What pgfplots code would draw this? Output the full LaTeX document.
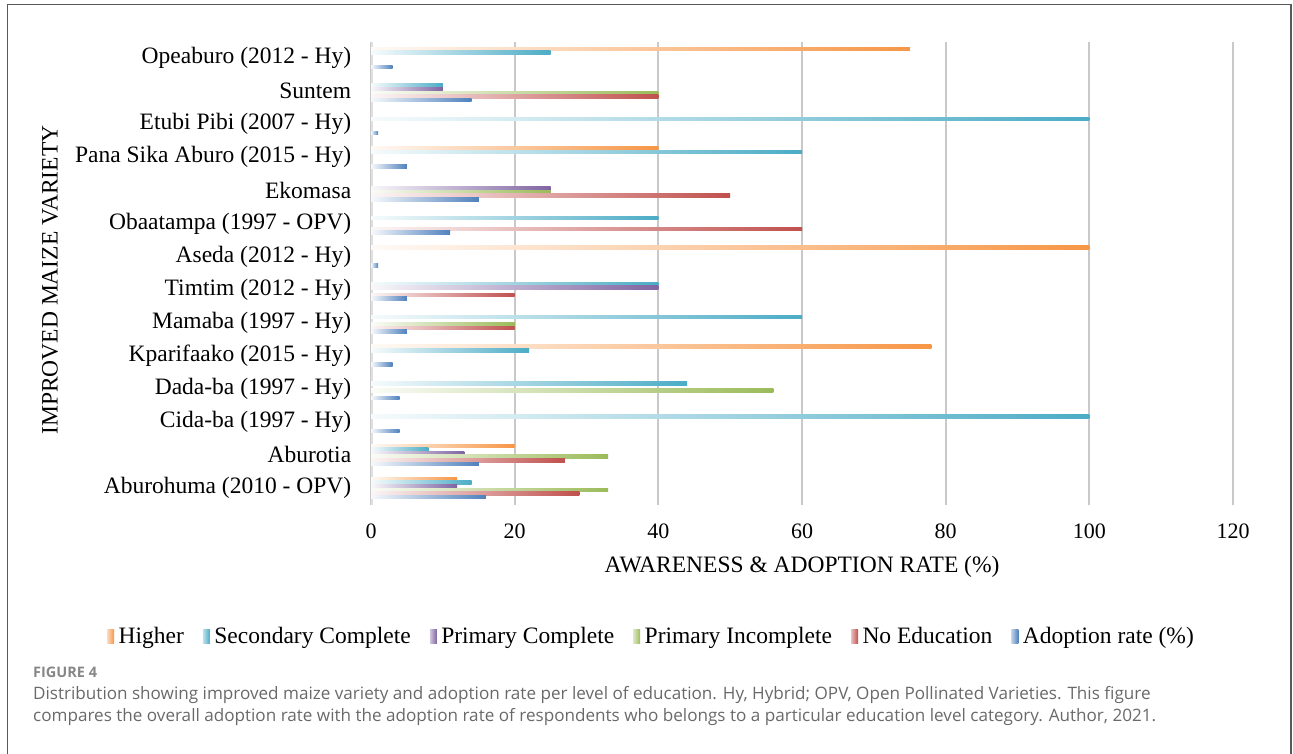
\documentclass[border=0pt]{standalone}
\usepackage{fontspec}
\setmainfont{Liberation Serif}
\newfontfamily\capfont{Open Sans}
\usepackage{pgfplots}
\pgfplotsset{compat=1.18}
\definecolor{cHigh}{RGB}{247,150,70}
\definecolor{cSec}{RGB}{75,172,198}
\definecolor{cPC}{RGB}{128,100,162}
\definecolor{cPI}{RGB}{155,187,89}
\definecolor{cNo}{RGB}{192,80,77}
\definecolor{cAd}{RGB}{79,129,189}
\definecolor{capgray}{RGB}{105,105,105}
\definecolor{figgray}{RGB}{135,135,135}
% one bar: colour, shift, value, category index
\newcommand{\bb}[4]{\addplot[forget plot, draw=none, left color=#1!5, middle color=#1!72, right color=#1, bar shift=#2] coordinates {(#3,#4)};}
\begin{document}
\begin{tikzpicture}[font=\fontsize{23.5}{28}\selectfont]
\path[use as bounding box] (0pt,0pt) rectangle (1293pt,-753pt);
\draw[black!65, line width=1.5pt] (7.5pt,-760pt) -- (7.5pt,-4.5pt) -- (1291pt,-4.5pt) -- (1291pt,-760pt);
\begin{axis}[
  at={(371pt,-504.5pt)}, anchor=south west,
  width=862pt, height=463pt, scale only axis,
  xmin=0, xmax=120, ymin=-0.5, ymax=13.5,
  xtick={0,20,...,120},
  ytick={0,...,13},
  yticklabels={Aburohuma (2010 - OPV), Aburotia, Cida-ba (1997 - Hy), Dada-ba (1997 - Hy), Kparifaako (2015 - Hy), Mamaba (1997 - Hy), Timtim (2012 - Hy), Aseda (2012 - Hy), Obaatampa (1997 - OPV), Ekomasa, Pana Sika Aburo (2015 - Hy), Etubi Pibi (2007 - Hy), Suntem, Opeaburo (2012 - Hy)},
  /pgf/number format/assume math mode=true,
  axis line style={draw=none},
  tick style={draw=none},
  xmajorgrids,
  grid style={draw=black!21, line width=1.8pt},
  xticklabel style={yshift=-16pt, font=\fontsize{22}{26}\selectfont},
  yticklabel style={xshift=-12pt},
  xbar, bar width=0.106,
  legend columns=6,
  legend style={at={(0.3248,-0.284)}, anchor=center, draw=none, fill=none,
    font=\fontsize{23.5}{28}\selectfont,
    nodes={inner xsep=1pt},
    /tikz/every odd column/.append style={column sep=3.5pt},
    /tikz/every even column/.append style={column sep=18pt}},
  legend image code/.code={\path[#1,draw=none] (0pt,-7pt) rectangle (7pt,7pt);},
]
\draw[black!12, line width=4pt] (axis cs:0,-0.5) -- (axis cs:0,13.5);
\addlegendimage{left color=cHigh!35, right color=cHigh}
\addlegendentry{Higher}
\addlegendimage{left color=cSec!35, right color=cSec}
\addlegendentry{Secondary Complete}
\addlegendimage{left color=cPC!35, right color=cPC}
\addlegendentry{Primary Complete}
\addlegendimage{left color=cPI!35, right color=cPI}
\addlegendentry{Primary Incomplete}
\addlegendimage{left color=cNo!35, right color=cNo}
\addlegendentry{No Education}
\addlegendimage{left color=cAd!35, right color=cAd}
\addlegendentry{Adoption rate (\%)}
% Higher
\bb{cHigh}{0.2725}{75}{13} \bb{cHigh}{0.2725}{40}{10} \bb{cHigh}{0.2725}{100}{7}
\bb{cHigh}{0.2725}{78}{4} \bb{cHigh}{0.2725}{20}{1} \bb{cHigh}{0.2725}{12}{0}
% Secondary Complete
\bb{cSec}{0.1635}{25}{13} \bb{cSec}{0.1635}{10}{12} \bb{cSec}{0.1635}{100}{11}
\bb{cSec}{0.1635}{60}{10} \bb{cSec}{0.1635}{40}{8} \bb{cSec}{0.1635}{40}{6}
\bb{cSec}{0.1635}{60}{5} \bb{cSec}{0.1635}{22}{4} \bb{cSec}{0.1635}{44}{3}
\bb{cSec}{0.1635}{100}{2} \bb{cSec}{0.1635}{8}{1} \bb{cSec}{0.1635}{14}{0}
% Primary Complete
\bb{cPC}{0.0545}{10}{12} \bb{cPC}{0.0545}{25}{9} \bb{cPC}{0.0545}{40}{6}
\bb{cPC}{0.0545}{13}{1} \bb{cPC}{0.0545}{12}{0}
% Primary Incomplete
\bb{cPI}{-0.0545}{40}{12} \bb{cPI}{-0.0545}{25}{9} \bb{cPI}{-0.0545}{20}{5}
\bb{cPI}{-0.0545}{56}{3} \bb{cPI}{-0.0545}{33}{1} \bb{cPI}{-0.0545}{33}{0}
% No Education
\bb{cNo}{-0.1635}{40}{12} \bb{cNo}{-0.1635}{50}{9} \bb{cNo}{-0.1635}{60}{8}
\bb{cNo}{-0.1635}{20}{6} \bb{cNo}{-0.1635}{20}{5} \bb{cNo}{-0.1635}{27}{1}
\bb{cNo}{-0.1635}{29}{0}
% Adoption rate
\bb{cAd}{-0.2725}{3}{13} \bb{cAd}{-0.2725}{14}{12} \bb{cAd}{-0.2725}{1}{11}
\bb{cAd}{-0.2725}{5}{10} \bb{cAd}{-0.2725}{15}{9} \bb{cAd}{-0.2725}{11}{8}
\bb{cAd}{-0.2725}{1}{7} \bb{cAd}{-0.2725}{5}{6} \bb{cAd}{-0.2725}{5}{5}
\bb{cAd}{-0.2725}{3}{4} \bb{cAd}{-0.2725}{4}{3} \bb{cAd}{-0.2725}{4}{2}
\bb{cAd}{-0.2725}{15}{1} \bb{cAd}{-0.2725}{16}{0}
\end{axis}
\node[rotate=90] at (50pt,-280pt) {IMPROVED MAIZE VARIETY};
\node at (802pt,-567pt) {AWARENESS \& ADOPTION RATE (\%)};
\node[anchor=west, text=figgray, font=\capfont\bfseries\fontsize{14.5}{17}\selectfont, inner sep=0pt] at (33pt,-672pt) {FIGURE 4};
\node[anchor=west, text=capgray, font=\capfont\fontsize{17.1}{20}\selectfont, inner sep=0pt] at (33pt,-695pt) {Distribution showing improved maize variety and adoption rate per level of education. Hy, Hybrid; OPV, Open Pollinated Varieties. This figure};
\node[anchor=west, text=capgray, font=\capfont\fontsize{17.1}{20}\selectfont, inner sep=0pt] at (33pt,-717pt) {compares the overall adoption rate with the adoption rate of respondents who belongs to a particular education level category. Author, 2021.};
\end{tikzpicture}
\end{document}
